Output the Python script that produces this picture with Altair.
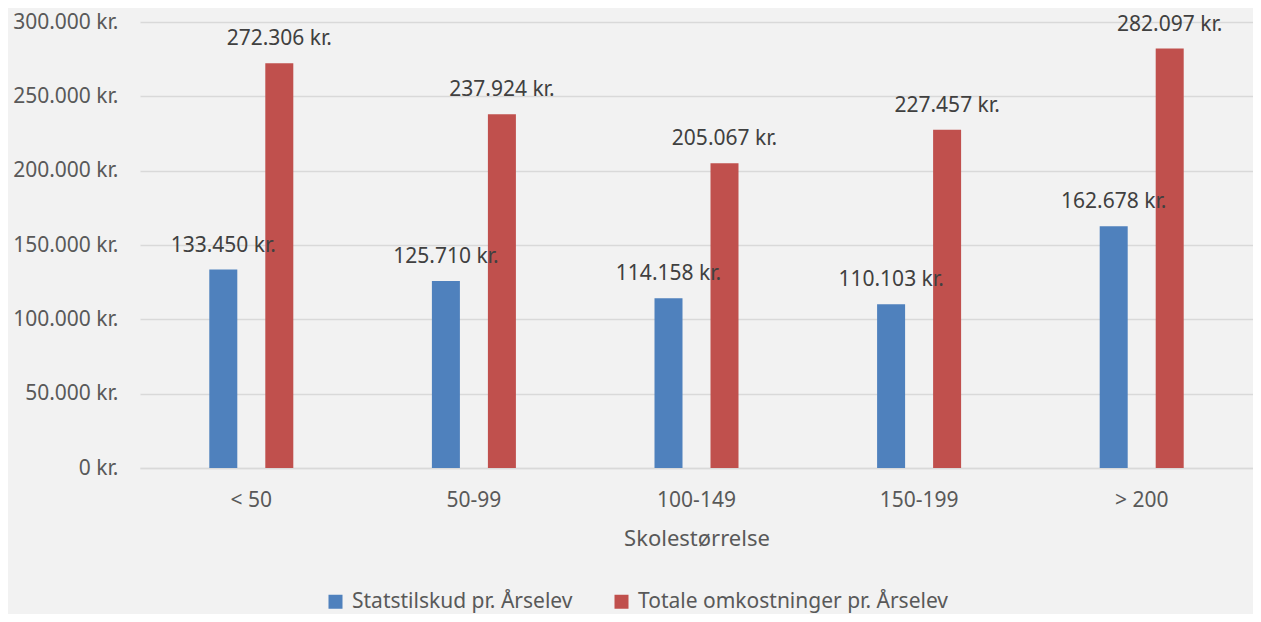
import altair as alt
import pandas as pd

categories = ["< 50", "50-99", "100-149", "150-199", "> 200"]
series = ["Statstilskud pr. Årselev", "Totale omkostninger pr. Årselev"]
statstilskud = [133450, 125710, 114158, 110103, 162678]
totale = [272306, 237924, 205067, 227457, 282097]
colors = ["#4F81BD", "#C0504D"]

rows = []
for i, c in enumerate(categories):
    for s, vals in zip(series, [statstilskud, totale]):
        v = vals[i]
        rows.append({"cat": c, "series": s, "value": v,
                     "label": f"{v:,}".replace(",", ".") + " kr."})
df = pd.DataFrame(rows)

FONT = "Noto Sans"
FS = 21

base = alt.Chart(df).encode(
    x=alt.X("cat:N", sort=categories,
            scale=alt.Scale(paddingInner=0.6226, paddingOuter=0.3113),
            axis=alt.Axis(title="Skolestørrelse", labelAngle=0, labelFontSize=FS,
                          titleFontSize=22, labelColor="#595959", titleColor="#595959",
                          titleFontWeight="normal", labelFont=FONT, titleFont=FONT,
                          ticks=False, domainColor="#D9D9D9", domainWidth=1.5,
                          labelPadding=21, titlePadding=18)),
    xOffset=alt.XOffset("series:N", sort=series,
                        scale=alt.Scale(paddingInner=0.5, paddingOuter=0)),
)

bars = base.mark_bar().encode(
    y=alt.Y("value:Q", scale=alt.Scale(domain=[0, 300000]),
            axis=alt.Axis(title=None, values=[0, 50000, 100000, 150000, 200000, 250000, 300000],
                          labelExpr="replace(format(datum.value, ',d'), ',', '.') + ' kr.'",
                          labelFontSize=FS, labelColor="#595959", labelFont=FONT,
                          ticks=False, domain=False, gridColor="#D9D9D9", gridWidth=1.5,
                          labelPadding=22)),
    color=alt.Color("series:N", sort=series,
                    scale=alt.Scale(domain=series, range=colors),
                    legend=alt.Legend(title=None, orient="none", direction="horizontal",
                                      legendX=185, legendY=569, symbolType="square",
                                      symbolSize=196, symbolStrokeWidth=0,
                                      labelFontSize=FS, labelColor="#595959", labelFont=FONT,
                                      labelLimit=500, labelOffset=6,
                                      columnPadding=38, symbolOffset=0)),
)

text = base.mark_text(baseline="alphabetic", dy=-18, fontSize=FS, color="#404040", font=FONT).encode(
    y=alt.Y("value:Q"),
    text="label:N",
)

chart = alt.layer(bars, text).properties(
    width=1113, height=446,
    background="#F2F2F2",
    padding={"left": 132, "top": 14, "right": 0, "bottom": 146},
    autosize=alt.AutoSizeParams(type="none"),
).configure_view(stroke=None)

chart.save("out.html", embed_options={"renderer": "svg", "actions": False})
